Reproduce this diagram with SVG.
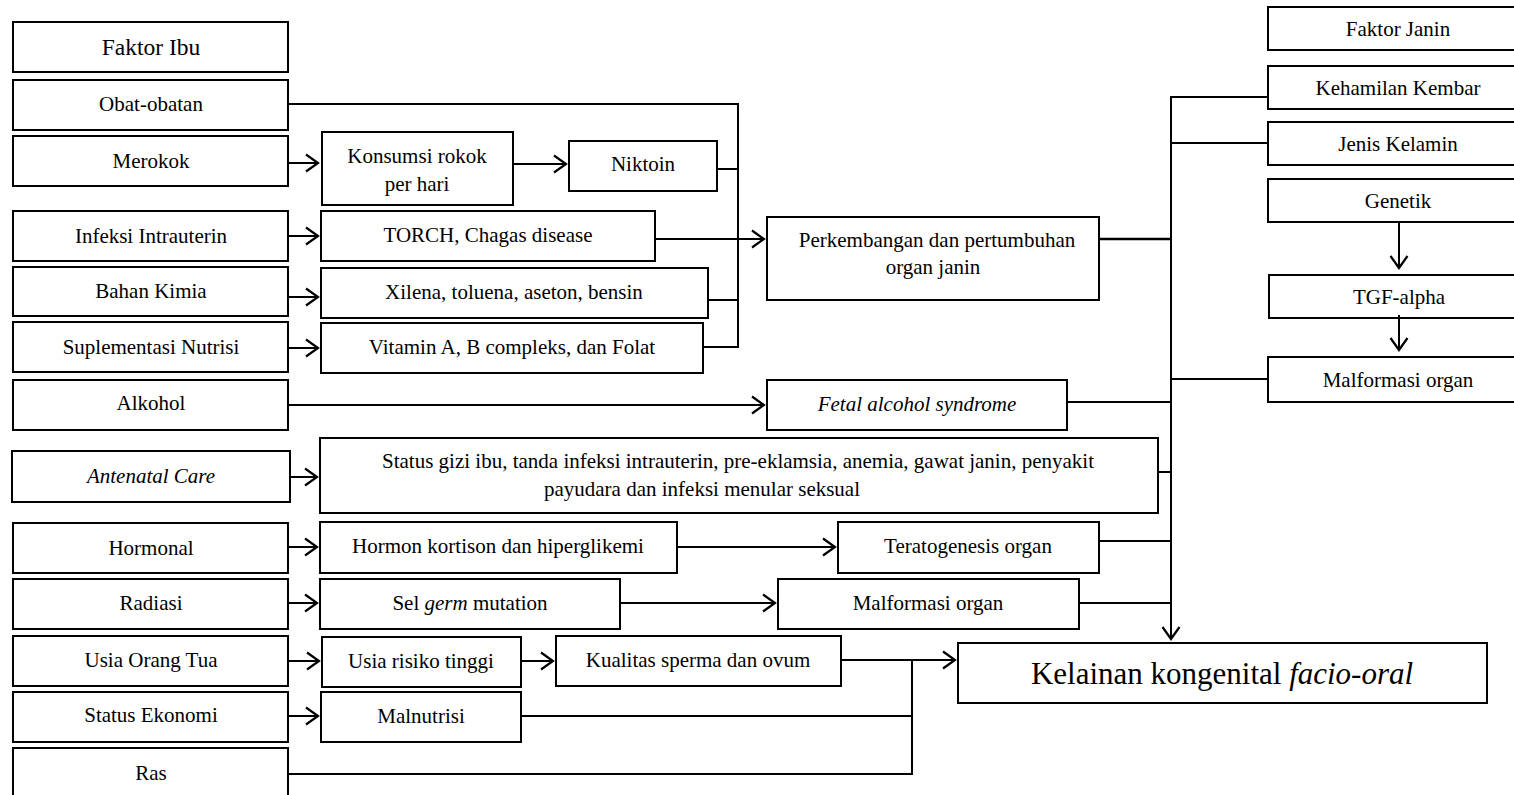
<svg xmlns="http://www.w3.org/2000/svg" width="1514" height="795" viewBox="0 0 1514 795" font-family="'Liberation Serif', 'DejaVu Serif', serif">
<style>
rect{fill:#fff;stroke:#000;stroke-width:2}
text{font-family:'Liberation Serif','DejaVu Serif',serif;font-size:21px;fill:#000;text-anchor:middle}
.c path,.c line,.c polyline{fill:none;stroke:#000;stroke-width:2}
.it{font-style:italic}
</style>
<defs>
<marker id="ah" markerUnits="userSpaceOnUse" markerWidth="16" markerHeight="20" viewBox="0 0 16 20" refX="13" refY="10" orient="auto">
<path d="M1,1.5 L13,10 L1,18.5" fill="none" stroke="#000" stroke-width="2.2"/>
</marker>
</defs>
<g id="faktor-ibu"><rect x="13" y="22" width="275" height="50"/><text x="151" y="55" style="font-size:23.5px">Faktor Ibu</text></g>
<g id="obat"><rect x="13" y="80" width="275" height="50"/><text x="151" y="111">Obat-obatan</text></g>
<g id="merokok"><rect x="13" y="136" width="275" height="50"/><text x="151" y="168">Merokok</text></g>
<g id="infeksi"><rect x="13" y="211" width="275" height="50"/><text x="151" y="243">Infeksi Intrauterin</text></g>
<g id="kimia"><rect x="13" y="267" width="275" height="49"/><text x="151" y="298">Bahan Kimia</text></g>
<g id="suplementasi"><rect x="13" y="322" width="275" height="50"/><text x="151" y="354">Suplementasi Nutrisi</text></g>
<g id="alkohol"><rect x="13" y="380" width="275" height="50"/><text x="151" y="410">Alkohol</text></g>
<g id="antenatal"><rect x="12" y="451" width="278" height="51"/><text x="151" y="483" class="it">Antenatal Care</text></g>
<g id="hormonal"><rect x="13" y="523" width="275" height="50"/><text x="151" y="555">Hormonal</text></g>
<g id="radiasi"><rect x="13" y="579" width="275" height="50"/><text x="151" y="610">Radiasi</text></g>
<g id="usia"><rect x="13" y="636" width="275" height="50"/><text x="151" y="667">Usia Orang Tua</text></g>
<g id="ekonomi"><rect x="13" y="692" width="275" height="50"/><text x="151" y="722">Status Ekonomi</text></g>
<g id="ras"><rect x="13" y="748" width="275" height="60"/><text x="151" y="780">Ras</text></g>

<g id="konsumsi"><rect x="322" y="132" width="191" height="73"/><text x="417" y="163">Konsumsi rokok</text><text x="417" y="191">per hari</text></g>
<g id="niktoin"><rect x="569" y="141" width="148" height="50"/><text x="643" y="171">Niktoin</text></g>
<g id="torch"><rect x="321" y="211" width="334" height="50"/><text x="488" y="242">TORCH, Chagas disease</text></g>
<g id="xilena"><rect x="321" y="268" width="387" height="50"/><text x="514" y="299">Xilena, toluena, aseton, bensin</text></g>
<g id="vitamin"><rect x="321" y="323" width="382" height="50"/><text x="512" y="354">Vitamin A, B compleks, dan Folat</text></g>
<g id="perkembangan"><rect x="767" y="217" width="332" height="83"/><text x="937" y="247">Perkembangan dan pertumbuhan</text><text x="933" y="274">organ janin</text></g>
<g id="fetal"><rect x="767" y="380" width="300" height="50"/><text x="917" y="411" class="it">Fetal alcohol syndrome</text></g>
<g id="status-gizi"><rect x="320" y="438" width="838" height="75"/><text x="738" y="468">Status gizi ibu, tanda infeksi intrauterin, pre-eklamsia, anemia, gawat janin, penyakit</text><text x="702" y="496">payudara dan infeksi menular seksual</text></g>
<g id="hormon"><rect x="320" y="522" width="357" height="51"/><text x="498" y="553">Hormon kortison dan hiperglikemi</text></g>
<g id="teratogenesis"><rect x="838" y="522" width="261" height="51"/><text x="968" y="553">Teratogenesis organ</text></g>
<g id="sel-germ"><rect x="320" y="579" width="300" height="50"/><text x="470" y="610">Sel <tspan class="it">germ</tspan> mutation</text></g>
<g id="malformasi-mid"><rect x="778" y="579" width="301" height="50"/><text x="928" y="610">Malformasi organ</text></g>
<g id="usia-risiko"><rect x="322" y="637" width="199" height="50"/><text x="421" y="668">Usia risiko tinggi</text></g>
<g id="kualitas"><rect x="556" y="636" width="285" height="50"/><text x="698" y="667">Kualitas sperma dan ovum</text></g>
<g id="malnutrisi"><rect x="321" y="692" width="200" height="50"/><text x="421" y="723">Malnutrisi</text></g>
<g id="kelainan"><rect x="958" y="643" width="529" height="60"/><text x="1222" y="684" style="font-size:31px">Kelainan kongenital <tspan class="it">facio-oral</tspan></text></g>

<g id="faktor-janin"><rect x="1268" y="7" width="260" height="43"/><text x="1398" y="36">Faktor Janin</text></g>
<g id="kembar"><rect x="1268" y="66" width="260" height="43"/><text x="1398" y="95">Kehamilan Kembar</text></g>
<g id="kelamin"><rect x="1268" y="122" width="260" height="43"/><text x="1398" y="151">Jenis Kelamin</text></g>
<g id="genetik"><rect x="1268" y="179" width="260" height="43"/><text x="1398" y="208">Genetik</text></g>
<g id="tgf"><rect x="1269" y="275" width="260" height="43"/><text x="1399" y="304">TGF-alpha</text></g>
<g id="malformasi-right"><rect x="1268" y="357" width="260" height="45"/><text x="1398" y="387">Malformasi organ</text></g>

<g id="connectors" class="c">
<line x1="288" y1="163" x2="318" y2="163" marker-end="url(#ah)"/>
<line x1="288" y1="236" x2="318" y2="236" marker-end="url(#ah)"/>
<line x1="288" y1="297" x2="318" y2="297" marker-end="url(#ah)"/>
<line x1="288" y1="348" x2="318" y2="348" marker-end="url(#ah)"/>
<line x1="513" y1="164" x2="566" y2="164" marker-end="url(#ah)"/>
<polyline points="288,104 738,104 738,347 703,347"/>
<line x1="717" y1="169" x2="738" y2="169"/>
<line x1="708" y1="300" x2="738" y2="300"/>
<line x1="655" y1="239" x2="764" y2="239" marker-end="url(#ah)"/>
<line x1="288" y1="405" x2="764" y2="405" marker-end="url(#ah)"/>
<line x1="290" y1="477" x2="317" y2="477" marker-end="url(#ah)"/>
<line x1="288" y1="547" x2="317" y2="547" marker-end="url(#ah)"/>
<line x1="677" y1="547" x2="835" y2="547" marker-end="url(#ah)"/>
<line x1="288" y1="603" x2="317" y2="603" marker-end="url(#ah)"/>
<line x1="620" y1="603" x2="775" y2="603" marker-end="url(#ah)"/>
<line x1="288" y1="661" x2="319" y2="661" marker-end="url(#ah)"/>
<line x1="521" y1="661" x2="553" y2="661" marker-end="url(#ah)"/>
<line x1="288" y1="716" x2="318" y2="716" marker-end="url(#ah)"/>
<line x1="841" y1="660" x2="955" y2="660" marker-end="url(#ah)"/>
<polyline points="521,716 912,716"/>
<polyline points="288,774 912,774 912,660"/>
<polyline points="1268,97 1171,97 1171,639" marker-end="url(#ah)"/>
<line x1="1171" y1="143" x2="1268" y2="143"/>
<line x1="1099" y1="239" x2="1171" y2="239" style="stroke-width:2.5"/>
<line x1="1171" y1="379" x2="1268" y2="379"/>
<line x1="1067" y1="402" x2="1171" y2="402"/>
<line x1="1158" y1="472" x2="1171" y2="472"/>
<line x1="1099" y1="541" x2="1171" y2="541"/>
<line x1="1079" y1="603" x2="1171" y2="603"/>
<line x1="1399" y1="222" x2="1399" y2="268" marker-end="url(#ah)"/>
<line x1="1399" y1="315" x2="1399" y2="350" marker-end="url(#ah)"/>
</g>
</svg>
